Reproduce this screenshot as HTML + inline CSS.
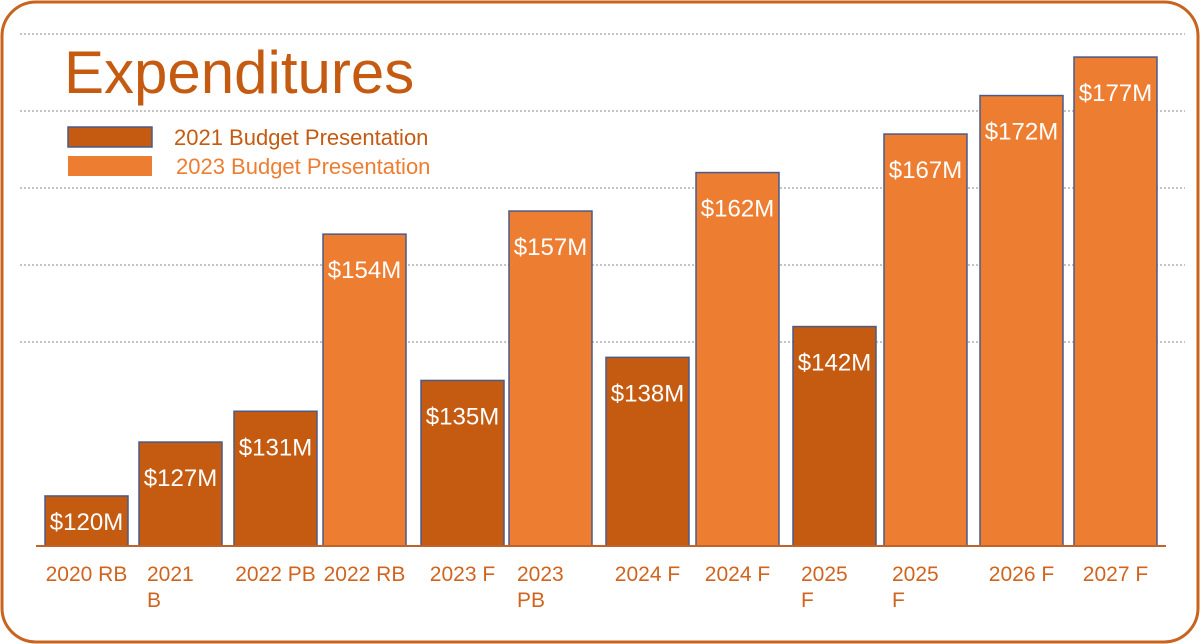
<!DOCTYPE html>
<html><head><meta charset="utf-8"><style>
html,body{margin:0;padding:0;background:#fff;}
svg{display:block;font-family:"Liberation Sans",Arial,sans-serif;}
</style></head><body>
<svg id="chart" width="1200" height="644" viewBox="0 0 1200 644">
<rect x="2" y="2" width="1196" height="640" rx="34" fill="#fff" stroke="#C8641E" stroke-width="3"/>
<g id="grid"></g>
<text x="64" y="93" font-size="60" fill="#C55A11">Expenditures</text>
<rect x="68" y="127" width="84" height="20" fill="#C55A11" stroke="#4A5A8A" stroke-width="1.5"/>
<text x="174" y="145" font-size="22" fill="#C55A11">2021 Budget Presentation</text>
<rect x="68" y="156" width="84" height="20" fill="#ED7D31"/>
<text x="176" y="174" font-size="22" fill="#ED7D31">2023 Budget Presentation</text>
<g id="bars"></g>
<line x1="36" y1="546" x2="1166" y2="546" stroke="#C0622A" stroke-width="2"/>
<g id="xlabels"></g>
</svg>
<script>
const categories=["2020 RB","2021 B","2022 PB","2022 RB","2023 F","2023 PB","2024 F","2024 F","2025 F","2025 F","2026 F","2027 F"];
const labelLines=[["2020 RB"],["2021","B"],["2022 PB"],["2022 RB"],["2023 F"],["2023","PB"],["2024 F"],["2024 F"],["2025","F"],["2025","F"],["2026 F"],["2027 F"]];
const values=[120,127,131,154,135,157,138,162,142,167,172,177];
const series=[0,0,0,1,0,1,0,1,0,1,1,1];
const valueLabels=["$120M","$127M","$131M","$154M","$135M","$157M","$138M","$162M","$142M","$167M","$172M","$177M"];
const gridTicks=[140,150,160,170,180];
const NS="http://www.w3.org/2000/svg";
const y0=546, vmin=113.5, pxPer=7.7;
function yScale(v){return y0-(v-vmin)*pxPer;}
const barX=[45,139,234,323,421,509,606,696,793,884,980,1074];
function xScale(i){return barX[i];}
const bw=83;
const grid=document.getElementById('grid');
gridTicks.forEach(t=>{
 const l=document.createElementNS(NS,'line');
 
 
 const y=yScale(t);
 l.setAttribute('x1',20);l.setAttribute('x2',1185);l.setAttribute('y1',y);l.setAttribute('y2',y);
 l.setAttribute('stroke','#888');l.setAttribute('stroke-dasharray','2 2');l.setAttribute('stroke-width','1');
 grid.appendChild(l);
});
const bars=document.getElementById('bars');
values.forEach((v,i)=>{
 const x=xScale(i), top=yScale(v);
 const r=document.createElementNS(NS,'rect');
 
 
 r.setAttribute('x',x);r.setAttribute('y',top);r.setAttribute('width',bw);r.setAttribute('height',y0-top);
 r.setAttribute('fill',series[i]?'#ED7D31':'#C55A11');r.setAttribute('stroke','#4A5A8A');r.setAttribute('stroke-width','1.5');
 bars.appendChild(r);
 const t=document.createElementNS(NS,'text');
 
 
 const h=y0-top;
 const ty=h<80? top+h/2+9 : top+44;
 t.setAttribute('x',x+bw/2);t.setAttribute('y',ty);t.setAttribute('text-anchor','middle');
 t.setAttribute('font-size','24');t.setAttribute('fill','#fff');
 t.textContent=valueLabels[i];
 bars.appendChild(t);
});
const xl=document.getElementById('xlabels');
labelLines.forEach((lines,i)=>{
 const t=document.createElementNS(NS,'text');
 
 
 const single=lines.length===1;
 const x=single? xScale(i)+bw/2 : xScale(i)+8;
 t.setAttribute('x',x);t.setAttribute('y',581);
 t.setAttribute('text-anchor',single?'middle':'start');
 t.setAttribute('font-size','21');t.setAttribute('fill','#D0641E');
 lines.forEach((s,k)=>{
  const sp=document.createElementNS(NS,'tspan');
  sp.setAttribute('x',x);sp.setAttribute('dy',k?26:0);sp.textContent=s;t.appendChild(sp);
 });
 xl.appendChild(t);
});
</script>
</body></html>
